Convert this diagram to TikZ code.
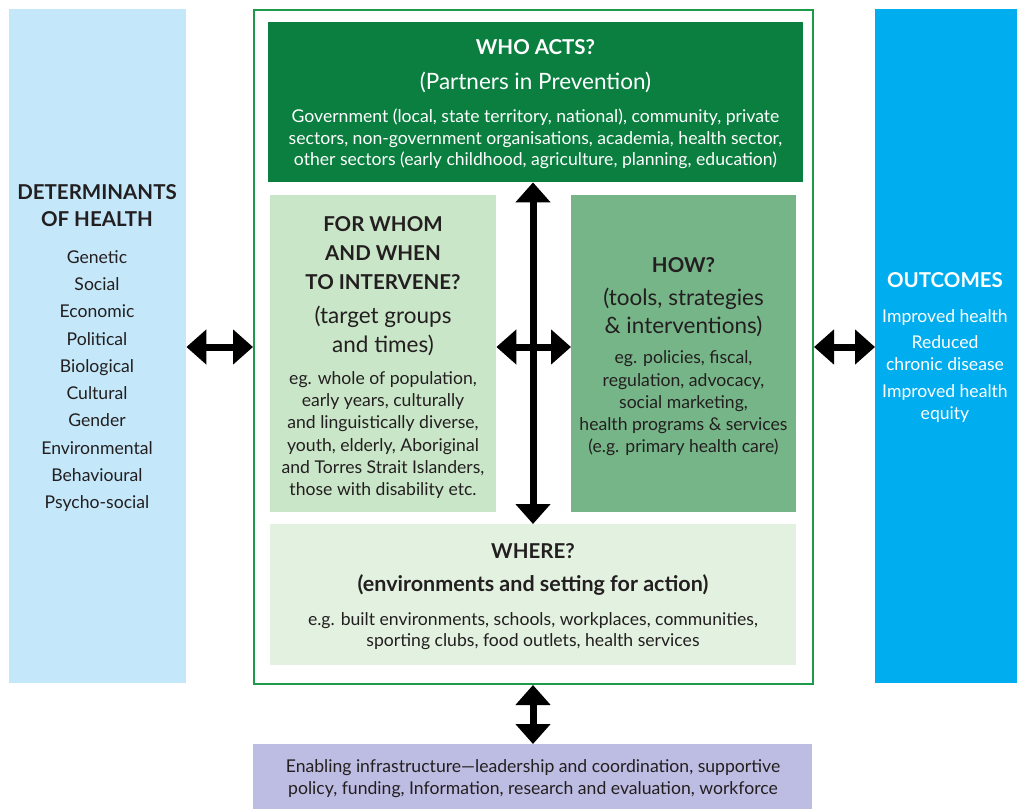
\documentclass[tikz,border=0pt]{standalone}
\usepackage{fontspec}
\setmainfont{Lato}
\usetikzlibrary{arrows.meta}
\definecolor{detblue}{HTML}{C4E8FA}
\definecolor{outblue}{HTML}{00AEEF}
\definecolor{framegreen}{HTML}{1E9A4B}
\definecolor{whogreen}{HTML}{0A7F3F}
\definecolor{whomgreen}{HTML}{CAE6C8}
\definecolor{howgreen}{HTML}{76B588}
\definecolor{wheregreen}{HTML}{E3F1E0}
\definecolor{infralilac}{HTML}{BDBCE2}
\definecolor{ink}{HTML}{231F20}
\tikzset{
  panel/.style 2 args={anchor=north west, inner sep=0pt, minimum width=#1, minimum height=#2},
  head/.style={align=center, text=ink, font=\fontsize{20.5}{27}\selectfont\bfseries},
  sub/.style={align=center, text=ink, font=\fontsize{22.5}{28.5}\selectfont},
  body/.style={align=center, text=ink, font=\fontsize{17.6}{22}\selectfont},
  twoway/.style={line width=7pt, {Triangle[length=20pt,width=34pt]}-{Triangle[length=20pt,width=34pt]}}
}
\begin{document}
\begin{tikzpicture}[x=1pt, y=-1pt]
\useasboundingbox (0,0) rectangle (1017,809);
% panels
\node[panel={177pt}{674pt}, fill=detblue] (det) at (9,9) {};
\node[panel={142pt}{674pt}, fill=outblue] (out) at (875,9) {};
\node[panel={559pt}{674pt}, draw=framegreen, line width=2pt] (frame) at (253,9) {};
\node[panel={535pt}{160pt}, fill=whogreen] (who) at (268,22) {};
\node[panel={226pt}{317pt}, fill=whomgreen] (whom) at (270,195) {};
\node[panel={225pt}{317pt}, fill=howgreen] (how) at (571,195) {};
\node[panel={526pt}{141pt}, fill=wheregreen] (where) at (270,524) {};
\node[panel={559pt}{65pt}, fill=infralilac] (infra) at (253,744) {};
\coordinate (hub) at (533,347);
% determinants
\node[head] (dethead) at (97,205.5) {DETERMINANTS\\OF HEALTH};
\node[body, font=\fontsize{17.6}{27.3}\selectfont] (detlist) at (97,381)
  {Genetic\\Social\\Economic\\Political\\Biological\\Cultural\\Gender\\Environmental\\Behavioural\\Psycho-social};
% outcomes
\node[head, text=white] (outhead) at (945,280) {OUTCOMES};
\node[body, text=white] (outlist) at (945,366)
  {Improved health\\[4pt]Reduced\\chronic disease\\[5pt]Improved health\\equity};
% who acts
\node[head, text=white] (whohead) at (535.5,47) {WHO ACTS?};
\node[sub, text=white] (whosub) at (535.5,82) {(Partners in Prevention)};
\node[body, text=white, font=\fontsize{17.6}{21.5}\selectfont] (whotext) at (535.5,139)
  {Government (local, state territory, national), community, private\\
   sectors, non-government organisations, academia, health sector,\\
   other sectors (early childhood, agriculture, planning, education)};
% for whom
\node[head, font=\fontsize{20.5}{29}\selectfont\bfseries] (whomhead) at (383,253)
  {FOR WHOM\\AND WHEN\\TO INTERVENE?};
\node[sub, font=\fontsize{22.5}{29}\selectfont] (whomsub) at (383,330.5) {(target groups\\and times)};
\node[body, font=\fontsize{17.6}{22.2}\selectfont] (whomtext) at (383,435)
  {eg. whole of population,\\early years, culturally\\and linguistically diverse,\\
   youth, elderly, Aboriginal\\and Torres Strait Islanders,\\those with disability etc.};
% how
\node[head] (howhead) at (683.5,265) {HOW?};
\node[sub, font=\fontsize{22.5}{28}\selectfont] (howsub) at (683.5,312) {(tools, strategies\\\& interventions)};
\node[body, font=\fontsize{17.6}{22.2}\selectfont] (howtext) at (683.5,403.5)
  {eg. policies, fiscal,\\regulation, advocacy,\\social marketing,\\
   health programs \& services\\(e.g. primary health care)};
% where
\node[head] (wherehead) at (533,551) {WHERE?};
\node[head, font=\fontsize{21.5}{27}\selectfont\bfseries] (wheresub) at (533,585) {(environments and setting for action)};
\node[body, font=\fontsize{17.6}{21}\selectfont] (wheretext) at (533,631.5)
  {e.g. built environments, schools, workplaces, communities,\\sporting clubs, food outlets, health services};
% infrastructure
\node[body, font=\fontsize{17.6}{22}\selectfont] (infratext) at (533,779)
  {Enabling infrastructure---leadership and coordination, supportive\\
   policy, funding, Information, research and evaluation, workforce};
% arrows
\draw[twoway] (det.east |- hub) -- (frame.west |- hub);
\draw[twoway] (frame.east |- hub) -- (out.west |- hub);
\draw[twoway] (who.south -| hub) -- (where.north -| hub);
\draw[twoway] (whom.east |- hub) -- (how.west |- hub);
\draw[twoway] (frame.south -| hub) -- (infra.north -| hub);
\end{tikzpicture}
\end{document}
